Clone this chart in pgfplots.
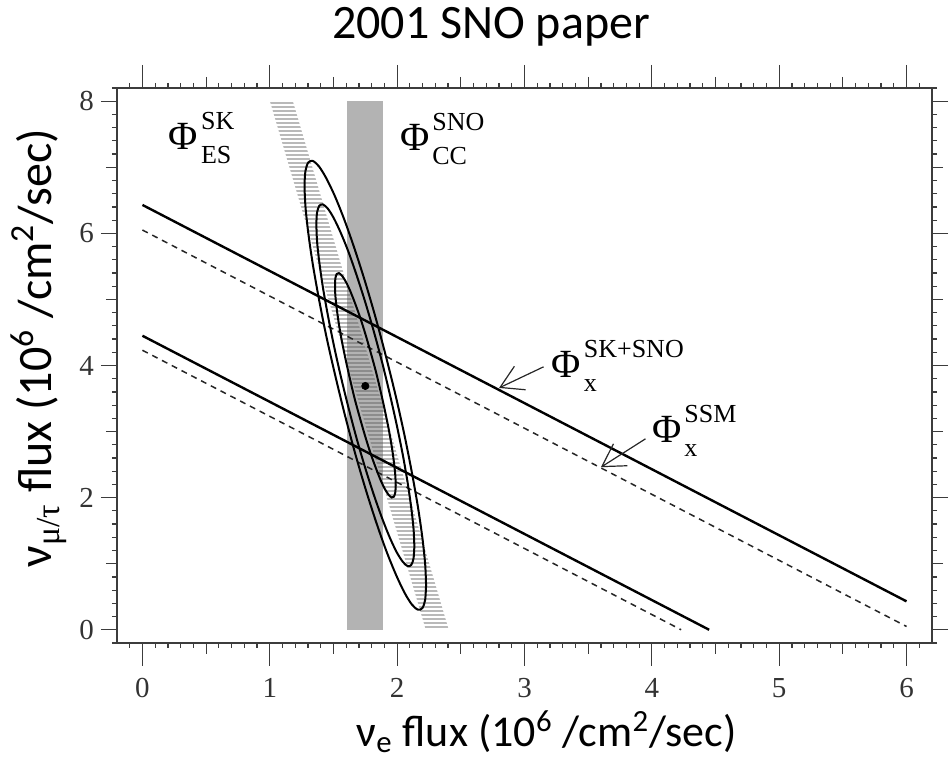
\documentclass[border=0pt]{standalone}
\usepackage{fontspec}
\setmainfont{Carlito}
\newfontfamily\tms{Liberation Serif}
\usepackage{pgfplots}
\pgfplotsset{compat=1.18}
\usetikzlibrary{arrows.meta,patterns.meta}

\definecolor{frame}{RGB}{60,60,60}
\definecolor{hatch}{RGB}{185,185,185}

% Phi with stacked super/subscript, set in the serif face
\newcommand{\philab}[2]{{\fontsize{20}{20}\selectfont Φ}\kern1.5pt\rlap{\raisebox{10pt}{\fontsize{13}{13}\selectfont #1}}\raisebox{-7pt}{\fontsize{13}{13}\selectfont #2}}

\begin{document}
\begin{tikzpicture}
\begin{axis}[
    name=ax,
    scale only axis,
    width=407.5pt, height=277.5pt,
    xmin=-0.2, xmax=6.2, ymin=-0.2, ymax=8.2,
    axis line style={frame, line width=0.8pt},
    tick align=outside,
    tick style={frame, line width=0.6pt},
    major tick length=5.5pt,
    minor tick length=2.5pt,
    xtick={0.5,1.5,...,5.5}, xticklabels={},
    ytick={1,3,5,7}, yticklabels={},
    minor xtick={-0.1,0,...,6.1},
    minor ytick={-0.2,0,...,8.2},
    extra x ticks={0,1,...,6},
    extra x tick style={major tick length=11.5pt, xticklabel style={yshift=-2.5pt}},
    extra y ticks={0,2,...,8},
    extra y tick style={major tick length=8pt},
    tick label style={font=\tms\fontsize{14.5}{14.5}\selectfont, text=black!80},
    /pgf/number format/assume math mode=true,
]
% SK elastic scattering band (hatched)
\addplot[draw=none, pattern={Lines[angle=0,distance=2pt,line width=1pt]}, pattern color=hatch]
    coordinates {(1.001,8) (1.181,8) (2.405,0) (2.225,0)} -- cycle;
% SNO charged current band
\addplot[draw=none, fill=black!67, fill opacity=0.443]
    coordinates {(1.61,0) (1.89,0) (1.89,8) (1.61,8)} -- cycle;

% total flux bands
\addplot[black, line width=1.2pt] coordinates {(0,6.43) (6,0.43)};
\addplot[black, line width=1.2pt] coordinates {(0,4.45) (4.45,0)};
\addplot[black!85, line width=0.75pt, dash pattern=on 3pt off 2.5pt] coordinates {(0,6.05) (6,0.05)};
\addplot[black!85, line width=0.75pt, dash pattern=on 3pt off 2.5pt] coordinates {(0,4.23) (4.23,0)};

% confidence contours
\addplot[black, line width=1pt, smooth] coordinates {
(2.227,0.678) (2.220,0.994) (2.198,1.393) (2.163,1.861) (2.115,2.386) (2.057,2.950)
(1.989,3.537) (1.913,4.130) (1.833,4.709) (1.750,5.257) (1.667,5.758) (1.587,6.197)
(1.512,6.559) (1.443,6.836) (1.385,7.016) (1.337,7.096) (1.302,7.072) (1.280,6.946)
(1.273,6.722) (1.280,6.406) (1.302,6.007) (1.337,5.539) (1.385,5.014) (1.443,4.450)
(1.512,3.863) (1.587,3.270) (1.667,2.691) (1.750,2.143) (1.833,1.642) (1.913,1.203)
(1.989,0.841) (2.057,0.564) (2.115,0.384) (2.163,0.304) (2.198,0.328) (2.220,0.454)
(2.227,0.678)};
\addplot[black, line width=1pt, smooth] coordinates {
(2.135,1.264) (2.129,1.519) (2.111,1.841) (2.083,2.218) (2.045,2.641) (1.997,3.096)
(1.942,3.569) (1.882,4.047) (1.817,4.513) (1.750,4.955) (1.683,5.359) (1.619,5.713)
(1.558,6.004) (1.503,6.228) (1.456,6.373) (1.417,6.437) (1.389,6.418) (1.371,6.316)
(1.366,6.136) (1.371,5.881) (1.389,5.559) (1.417,5.182) (1.456,4.759) (1.503,4.305)
(1.558,3.831) (1.619,3.353) (1.683,2.887) (1.750,2.445) (1.817,2.041) (1.882,1.687)
(1.942,1.396) (1.997,1.172) (2.045,1.027) (2.083,0.963) (2.111,0.982) (2.129,1.084)
(2.135,1.264)};
\addplot[black, line width=1pt, smooth] coordinates {
(1.989,2.189) (1.985,2.347) (1.974,2.547) (1.957,2.781) (1.933,3.043) (1.903,3.325)
(1.869,3.619) (1.832,3.915) (1.791,4.205) (1.750,4.479) (1.709,4.729) (1.668,4.949)
(1.631,5.130) (1.597,5.268) (1.567,5.358) (1.543,5.398) (1.526,5.386) (1.515,5.323)
(1.512,5.211) (1.515,5.053) (1.526,4.854) (1.543,4.620) (1.567,4.357) (1.597,4.075)
(1.631,3.782) (1.668,3.485) (1.709,3.196) (1.750,2.922) (1.791,2.671) (1.832,2.452)
(1.869,2.270) (1.903,2.132) (1.933,2.042) (1.957,2.002) (1.974,2.014) (1.985,2.077)
(1.989,2.189)};
% best fit
\addplot[only marks, mark=*, mark size=1.8pt, black] coordinates {(1.75,3.69)};

\node[anchor=base west, inner sep=0, font=\tms] at (axis cs:0.204,7.27) {\philab{SK}{ES}};
\node[anchor=base west, inner sep=0, font=\tms] at (axis cs:2.02,7.25) {\philab{SNO}{CC}};
\node[anchor=base west, inner sep=0, font=\tms] at (axis cs:3.21,3.82) {\philab{SK+SNO}{x}};
\node[anchor=base west, inner sep=0, font=\tms] at (axis cs:4.00,2.83) {\philab{SSM}{x}};
\draw[black!85, line width=0.6pt, -{Straight Barb[length=11pt,width=13pt]}]
    (axis cs:3.15,3.98) -- (axis cs:2.80,3.66);
\draw[black!85, line width=0.6pt, -{Straight Barb[length=11pt,width=13pt]}]
    (axis cs:3.95,2.89) -- (axis cs:3.60,2.46);
\end{axis}

\node[anchor=base, font=\fontsize{24}{28}\selectfont] at ([shift={(187pt,24.5pt)}]ax.north west) {2001 SNO paper};
\node[anchor=base, font=\fontsize{22}{26}\selectfont] at ([shift={(214.75pt,-51.8pt)}]ax.south west)
    {ν\textsubscript{e} flux (10\textsuperscript{6} /cm\textsuperscript{2}/sec)};
\node[anchor=base, rotate=90, font=\fontsize{24}{28}\selectfont] at ([shift={(-32.5pt,147.5pt)}]ax.south west)
    {ν\textsubscript{\tms μ/τ} flux (10\textsuperscript{6} /cm\textsuperscript{2}/sec)};

\pgfresetboundingbox
\path[use as bounding box] ([shift={(-58.5pt,-60pt)}]ax.south west) rectangle ([shift={(8.5pt,44pt)}]ax.north east);
\end{tikzpicture}
\end{document}
